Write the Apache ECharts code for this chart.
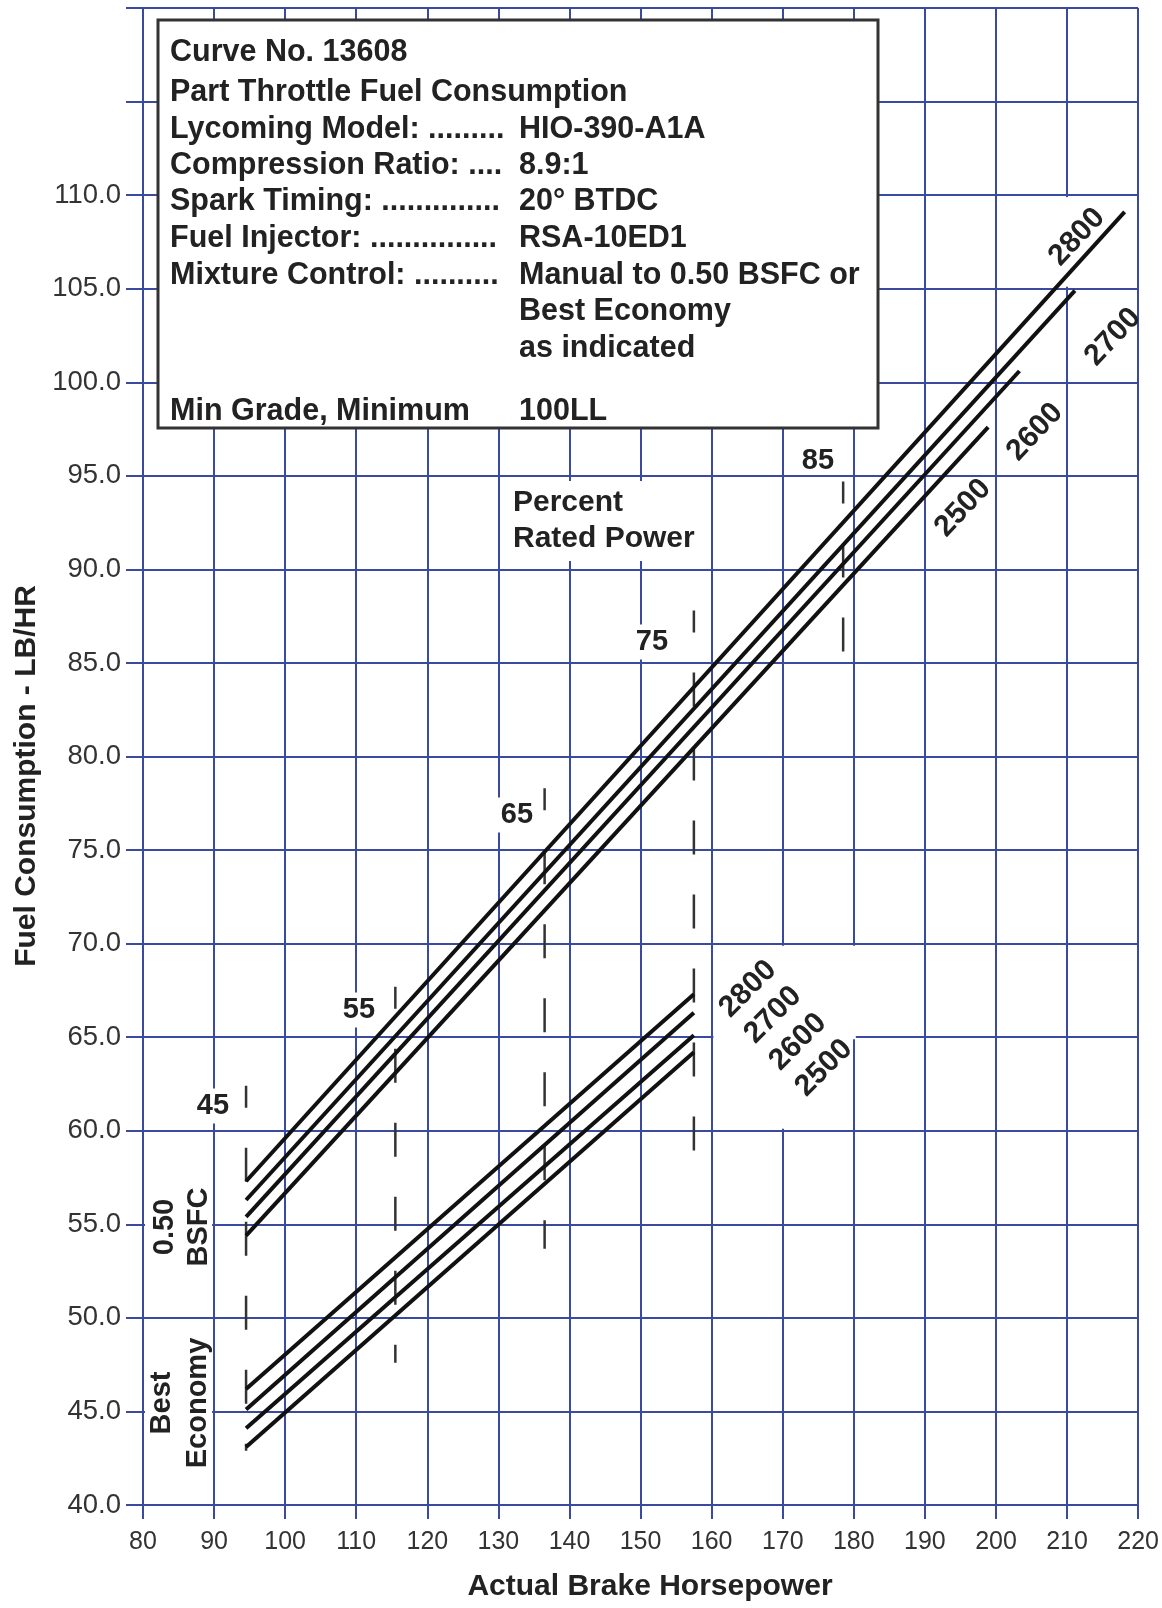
<!DOCTYPE html>
<html><head><meta charset="utf-8">
<script src="https://cdn.jsdelivr.net/npm/echarts@6/dist/echarts.min.js"></script>
<style>html,body{margin:0;padding:0;background:#fff}#c{width:1162px;height:1608px}</style>
</head><body><div id="c"></div>
<script>
// ---- data ----
const rpmLabels = ['2800', '2700', '2600', '2500'];
// 0.50 BSFC lines [hp, lb/hr]
const bsfc2800 = [[94.5, 57.3], [218.1, 109.1]];
const bsfc2700 = [[94.5, 56.3], [211.1, 104.9]];
const bsfc2600 = [[94.5, 55.4], [203.3, 100.6]];
const bsfc2500 = [[94.5, 54.4], [198.9, 97.6]];
// Best economy lines
const eco2800 = [[94.5, 46.2], [157.5, 67.3]];
const eco2700 = [[94.5, 45.1], [157.5, 66.3]];
const eco2600 = [[94.5, 44.1], [157.5, 65.1]];
const eco2500 = [[94.5, 43.1], [157.5, 64.2]];
// percent rated power markers
const ratedPct = ['45', '55', '65', '75', '85'];
const ratedHp = [94.5, 115.5, 136.5, 157.5, 178.5];
const ratedTop = [62.4, 67.7, 78.3, 87.8, 94.7];
const ratedBottom = [42.9, 47.6, 53.7, 57.6, 83.7];
const yLabelMax = 110;
const infoLeft = ['Curve No. 13608', 'Part Throttle Fuel Consumption', 'Lycoming Model: .........',
  'Compression Ratio: ....', 'Spark Timing: ..............', 'Fuel Injector: ...............',
  'Mixture Control: ..........', '', '', 'Min Grade, Minimum'];
const infoRight = ['', '', 'HIO-390-A1A', '8.9:1', '20° BTDC', 'RSA-10ED1',
  'Manual to 0.50 BSFC or', 'Best Economy', 'as indicated', '100LL'];

// ---- chart ----
const FONT = '"Liberation Sans", Arial, Helvetica, sans-serif';
const gridColor = '#3a4a9e';
const chart = echarts.init(document.getElementById('c'), null, {width: 1162, height: 1608});

function curve(name, data) {
  return {type: 'line', name, data, symbol: 'none', silent: true, z: 4,
    lineStyle: {color: '#111', width: 4, cap: 'butt'}};
}
const series = [];
[bsfc2800, bsfc2700, bsfc2600, bsfc2500].forEach((d, i) => series.push(curve('BSFC ' + rpmLabels[i], d)));
[eco2800, eco2700, eco2600, eco2500].forEach((d, i) => series.push(curve('Eco ' + rpmLabels[i], d)));
ratedHp.forEach((hp, i) => series.push({
  type: 'line', name: ratedPct[i] + '%', symbol: 'none', silent: true, z: 3,
  data: [[hp, ratedTop[i]], [hp, ratedBottom[i]]],
  lineStyle: {color: '#333', width: 2.5, type: [34, 40], dashOffset: 12}
}));

chart.setOption({
  animation: false,
  backgroundColor: '#fff',
  grid: {left: 143, right: 21, top: 8, bottom: 103},
  xAxis: {
    type: 'value', min: 80, max: 220, interval: 10,
    axisLine: {show: true, lineStyle: {color: gridColor, width: 2}},
    axisTick: {show: true, length: 14, lineStyle: {color: gridColor, width: 2}},
    axisLabel: {color: '#333', fontSize: 25, fontFamily: FONT, margin: 25},
    splitLine: {show: true, lineStyle: {color: gridColor, width: 2}}
  },
  yAxis: {
    type: 'value', min: 40, max: 120, interval: 5,
    axisLine: {show: true, lineStyle: {color: gridColor, width: 2}},
    axisTick: {show: true, length: 17, lineStyle: {color: gridColor, width: 2}},
    axisLabel: {color: '#333', fontSize: 27.5, fontFamily: FONT, margin: 22,
      formatter: v => v <= yLabelMax ? v.toFixed(1) : ''},
    splitLine: {show: true, lineStyle: {color: gridColor, width: 2}}
  },
  series
});

const px = (x, y) => chart.convertToPixel({gridIndex: 0}, [x, y]);
const g = [];
function txt(text, x, y, opt) {
  opt = opt || {};
  g.push({type: 'text', x, y, rotation: opt.rot || 0, z: 2, silent: true,
    style: {text, fill: opt.fill || '#222', fontSize: opt.size || 29, fontWeight: 'bold', fontFamily: FONT,
      align: opt.align || 'center', verticalAlign: opt.va || 'middle', lineHeight: opt.lh,
      backgroundColor: opt.bg, padding: opt.pad}});
}
function whiteRect(x1, y1, x2, y2) {
  g.push({type: 'rect', z: 1, silent: true, shape: {x: Math.min(x1, x2), y: Math.min(y1, y2),
    width: Math.abs(x2 - x1), height: Math.abs(y2 - y1)}, style: {fill: '#fff'}});
}
// axis names
txt('Fuel Consumption - LB/HR', 27, 776, {rot: Math.PI / 2, size: 30});
txt('Actual Brake Horsepower', 650, 1587, {size: 30});

// info box
g.push({type: 'rect', z: 1, silent: true, shape: {x: 158, y: 20, width: 720, height: 408},
  style: {fill: '#fff', stroke: '#333', lineWidth: 3}});
const rowY = [53, 93, 130, 166, 202, 239, 276, 312, 349, 412];
infoLeft.forEach((t, i) => { if (t) txt(t, 170, rowY[i], {align: 'left', size: 30.5}); });
infoRight.forEach((t, i) => { if (t) txt(t, 519, rowY[i], {align: 'left', size: 30.5}); });

// blank cell behind lower rpm labels
let a = px(160, 70), b = px(180, 65);
whiteRect(a[0] + 2, a[1] + 2, b[0] + 2, b[1] + 2);
a = px(160, 65); b = px(180, 60);
whiteRect(a[0] + 2, a[1] - 2, b[0] - 2, b[1] - 2);
// blank 210 line behind upper 2800 label
a = px(210, 110); b = px(210, 105);
whiteRect(a[0] - 3, a[1] + 2, a[0] + 3, b[1] - 2);
// blank grid behind mixture labels (80-90 column)
a = px(80, 57.6); b = px(90, 52.6);
whiteRect(a[0] + 2, a[1], b[0] - 2, b[1]);
a = px(80, 48.0); b = px(90, 42.0);
whiteRect(a[0] + 2, a[1], b[0] - 2, b[1]);

// percent labels
txt('45', 213, 1106, {bg: '#fff', pad: [3, 3]});
txt('55', 359, 1010, {bg: '#fff', pad: [3, 3]});
txt('65', 517, 815, {bg: '#fff', pad: [3, 3]});
txt('75', 652, 642, {bg: '#fff', pad: [3, 3]});
txt('85', 818, 461);
txt('Percent\nRated Power', 507, 521, {align: 'left', lh: 36, bg: '#fff', pad: [4, 6], size: 30});
// rpm labels upper
const r1 = 47 * Math.PI / 180;
txt(rpmLabels[0], 1077, 237, {rot: r1, size: 30});
txt(rpmLabels[1], 1113, 337, {rot: r1, size: 30});
txt(rpmLabels[2], 1035, 432, {rot: r1, size: 30});
txt(rpmLabels[3], 963, 508, {rot: r1, size: 30});
// rpm labels lower
const r2 = 45 * Math.PI / 180;
txt(rpmLabels[0], 748, 989, {rot: r2, size: 30});
txt(rpmLabels[1], 773, 1015, {rot: r2, size: 30});
txt(rpmLabels[2], 798, 1042, {rot: r2, size: 30});
txt(rpmLabels[3], 824, 1068, {rot: r2, size: 30});
// mixture labels
txt('0.50\nBSFC', 182, 1227, {rot: Math.PI / 2, lh: 34});
txt('Best\nEconomy', 180, 1403, {rot: Math.PI / 2, lh: 36});

chart.setOption({graphic: g});
</script>
</body></html>
